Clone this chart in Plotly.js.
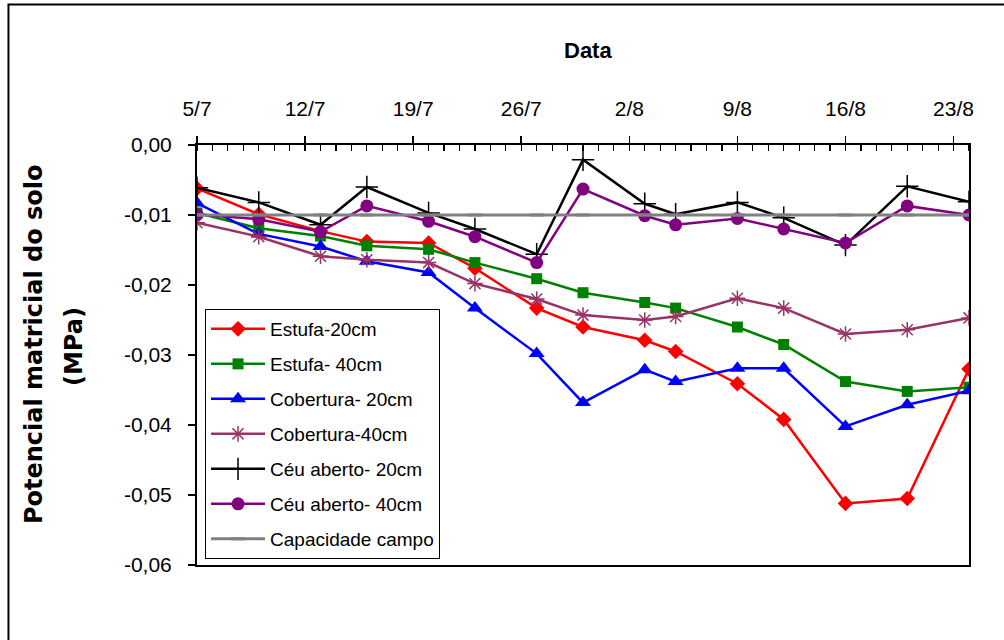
<!DOCTYPE html>
<html>
<head>
<meta charset="utf-8">
<script src="https://cdn.plot.ly/plotly-3.0.1.min.js"></script>
<style>
  html, body { margin: 0; padding: 0; background: #ffffff; }
  #chart { width: 1004px; height: 640px; }
</style>
</head>
<body>
<div id="chart"></div>
<script>
// Measurement dates (day/month)
const dates = ['2005-07-05', '2005-07-09', '2005-07-13', '2005-07-16', '2005-07-20',
               '2005-07-23', '2005-07-27', '2005-07-30', '2005-08-03', '2005-08-05',
               '2005-08-09', '2005-08-12', '2005-08-16', '2005-08-20', '2005-08-24'];

// Soil matric potential (MPa)
const estufa20 = [-0.0062, -0.0099, -0.0123, -0.0138, -0.0140, -0.0176, -0.0233, -0.0260,
                  -0.0279, -0.0295, -0.0341, -0.0392, -0.0512, -0.0505, -0.0320];
const estufa40 = [-0.0097, -0.0119, -0.0130, -0.0144, -0.0149, -0.0168, -0.0191, -0.0211,
                  -0.0225, -0.0233, -0.0260, -0.0285, -0.0338, -0.0352, -0.0346];
const cobertura20 = [-0.0083, -0.0127, -0.0145, -0.0166, -0.0182, -0.0233, -0.0298, -0.0368,
                     -0.0321, -0.0338, -0.0319, -0.0319, -0.0402, -0.0371, -0.0351];
const cobertura40 = [-0.0111, -0.0131, -0.0159, -0.0164, -0.0168, -0.0198, -0.0220, -0.0243,
                     -0.0250, -0.0245, -0.0219, -0.0233, -0.0270, -0.0264, -0.0247];
const ceuAberto20 = [-0.0061, -0.0082, -0.0114, -0.0060, -0.0097, -0.0120, -0.0156, -0.0021,
                     -0.0084, -0.0099, -0.0082, -0.0104, -0.0143, -0.0059, -0.0081];
const ceuAberto40 = [-0.0099, -0.0106, -0.0124, -0.0087, -0.0109, -0.0131, -0.0168, -0.0063,
                     -0.0101, -0.0114, -0.0105, -0.0120, -0.0140, -0.0087, -0.0100];
const capacidadeCampo = [-0.01, -0.01, -0.01, -0.01, -0.01, -0.01, -0.01, -0.01,
                         -0.01, -0.01, -0.01, -0.01, -0.01, -0.01, -0.01];

// Axis ticks
const xTickVals = ['2005-07-05', '2005-07-12', '2005-07-19', '2005-07-26',
                   '2005-08-02', '2005-08-09', '2005-08-16', '2005-08-23'];
const xTickText = ['5/7', '12/7', '19/7', '26/7', '2/8', '9/8', '16/8', '23/8'];
const yTickVals = [0, -0.01, -0.02, -0.03, -0.04, -0.05, -0.06];
const yTickText = ['0,00', '-0,01', '-0,02', '-0,03', '-0,04', '-0,05', '-0,06'];

const FONT = 'Liberation Sans, Arial, sans-serif';
const TITLE_FONT = 'DejaVu Sans, Arial, sans-serif';

function series(name, y, color, symbol, size, extra) {
  return Object.assign({
    type: 'scatter',
    mode: 'lines+markers',
    name: name,
    legendgroup: name,
    x: dates,
    y: y,
    line: { color: color, width: 2.5 },
    marker: { color: color, symbol: symbol, size: size, line: { color: color, width: 0 } }
  }, extra || {});
}

const traces = [
  series('Estufa-20cm', estufa20, '#FF0000', 'diamond', 12),
  series('Estufa- 40cm', estufa40, '#008000', 'square', 11),
  series('Cobertura- 20cm', cobertura20, '#0000FF', 'triangle-up', 14),
  series('Cobertura-40cm', cobertura40, '#993366', 'asterisk-open', 13,
         { marker: { color: '#993366', symbol: 'asterisk-open', size: 13, line: { color: '#993366', width: 1.5 } } }),
  series('Céu aberto- 20cm', ceuAberto20, '#000000', 'cross-thin-open', 16,
         { marker: { color: '#000000', symbol: 'cross-thin-open', size: 16, line: { color: '#000000', width: 1.5 } } }),
  series('Céu aberto- 40cm', ceuAberto40, '#800080', 'circle', 13),
  series('Capacidade campo', capacidadeCampo, '#808080', 'line-ew-open', 10,
         { line: { color: '#808080', width: 3 },
           marker: { color: '#808080', symbol: 'line-ew-open', size: 10, line: { color: '#808080', width: 3 } } })
];

const layout = {
  width: 1004,
  height: 640,
  margin: { l: 197, r: 35, t: 145, b: 75 },
  paper_bgcolor: '#ffffff',
  plot_bgcolor: '#ffffff',
  font: { family: FONT, size: 21, color: '#000000' },
  showlegend: true,
  legend: {
    x: 0.0104, y: 0.6095, xanchor: 'left', yanchor: 'top',
    bgcolor: '#ffffff', bordercolor: '#000000', borderwidth: 1,
    font: { family: FONT, size: 19, color: '#000000' },
    traceorder: 'grouped',
    tracegroupgap: 7.3,
    itemwidth: 54
  },
  xaxis: {
    type: 'date',
    side: 'top',
    range: ['2005-07-05', '2005-08-24'],
    tickvals: xTickVals,
    ticktext: xTickText,
    ticks: 'outside',
    ticklen: 7,
    tickwidth: 1.5,
    tickcolor: '#000000',
    ticklabelstandoff: 12,
    minor: { ticks: 'inside', ticklen: 6, tickwidth: 1.2, tickcolor: '#000000', dtick: 86400000, tick0: '2005-07-05', showgrid: false },
    showline: true, linecolor: '#000000', linewidth: 2, mirror: true,
    showgrid: false, zeroline: false,
    tickfont: { family: FONT, size: 21, color: '#000000' }
  },
  yaxis: {
    range: [-0.06, 0],
    tickvals: yTickVals,
    ticktext: yTickText,
    ticks: 'outside',
    ticklen: 7,
    tickwidth: 1.5,
    tickcolor: '#000000',
    ticklabelstandoff: 12,
    showline: true, linecolor: '#000000', linewidth: 2, mirror: true,
    showgrid: false, zeroline: false,
    tickfont: { family: FONT, size: 21, color: '#000000' }
  },
  annotations: [
    {
      text: '<b>Data</b>', xref: 'paper', yref: 'paper',
      x: 0.5065, y: 1.226, xanchor: 'center', yanchor: 'middle',
      showarrow: false, font: { family: FONT, size: 22, color: '#000000' }
    },
    {
      text: '<b>Potencial matricial do solo</b>', xref: 'paper', yref: 'paper',
      x: -0.2111, y: 0.526, xanchor: 'center', yanchor: 'middle', textangle: -90,
      showarrow: false, font: { family: TITLE_FONT, size: 24, color: '#000000' }
    },
    {
      text: '<b>(MPa)</b>', xref: 'paper', yref: 'paper',
      x: -0.1593, y: 0.519, xanchor: 'center', yanchor: 'middle', textangle: -90,
      showarrow: false, font: { family: TITLE_FONT, size: 24, color: '#000000' }
    }
  ],
  shapes: [
    {
      type: 'rect', xref: 'paper', yref: 'paper',
      x0: -0.2442, x1: 1.2, y0: -0.5, y1: 1.3345,
      line: { color: '#000000', width: 2 }, fillcolor: 'rgba(0,0,0,0)', layer: 'below'
    }
  ]
};

Plotly.newPlot('chart', traces, layout, { displayModeBar: false, staticPlot: true });
</script>
</body>
</html>
